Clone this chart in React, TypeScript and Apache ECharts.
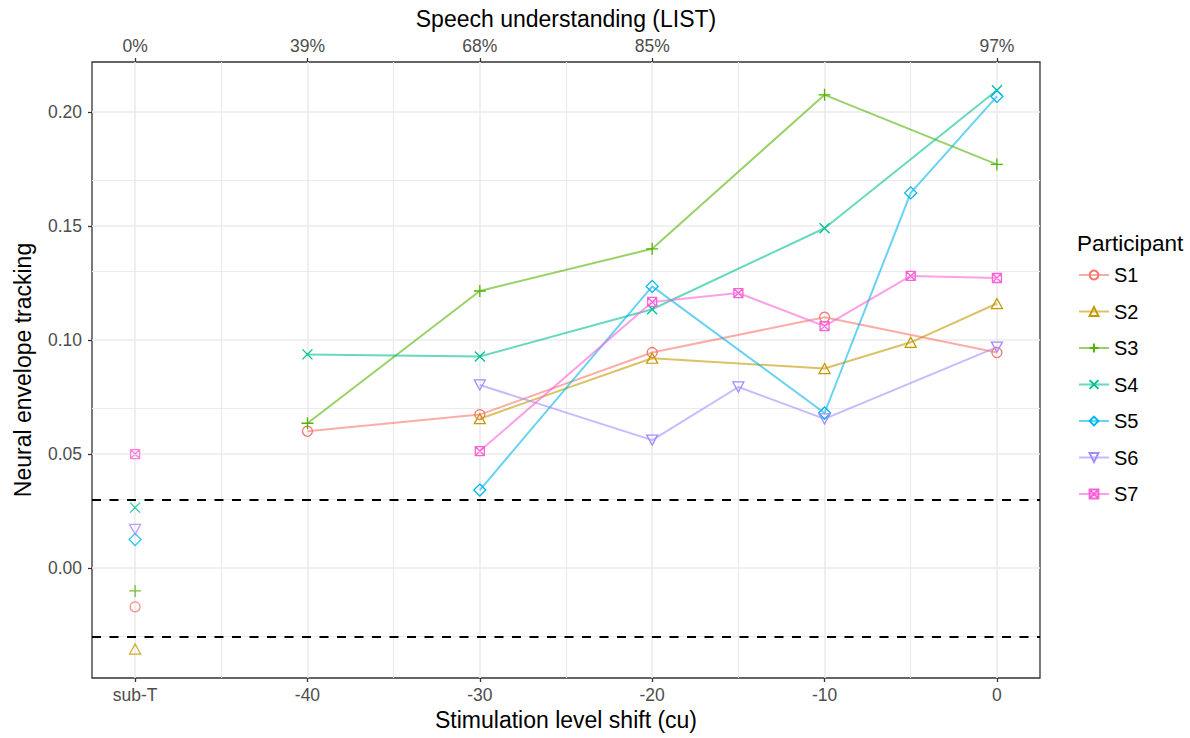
import React, { useEffect, useRef } from "react";
import * as echarts from "echarts";

// x positions: sub-T is drawn at -50
const subTX = -50;
const xBottomTicks = [-50, -40, -30, -20, -10, 0];
const xBottomLabels = ["sub-T", "-40", "-30", "-20", "-10", "0"];
const xTopTicks = [-50, -40, -30, -20, 0];
const xTopLabels = ["0%", "39%", "68%", "85%", "97%"];
const xMinorGrid = [-45, -35, -25, -15, -5];
const yTicks = [0, 0.05, 0.1, 0.15, 0.2];
const yMinorGrid = [-0.025, 0.025, 0.075, 0.125, 0.175];
const chanceLevels = [0.03, -0.03];

const participants = ["S1", "S2", "S3", "S4", "S5", "S6", "S7"];
const colors = ["#F8766D", "#C49A00", "#53B400", "#00C094", "#00B6EB", "#A58AFF", "#FB61D7"];

// sub-T values per participant
const subTValues = [-0.017, -0.0355, -0.010, 0.0265, 0.0125, 0.017, 0.050];

// connected values: [shift, tracking]
const s1: [number, number][] = [[-40, 0.060], [-30, 0.0673], [-20, 0.0945], [-10, 0.110], [0, 0.0945]];
const s2: [number, number][] = [[-30, 0.0655], [-20, 0.092], [-10, 0.0875], [-5, 0.099], [0, 0.116]];
const s3: [number, number][] = [[-40, 0.0635], [-30, 0.1215], [-20, 0.140], [-10, 0.2075], [0, 0.177]];
const s4: [number, number][] = [[-40, 0.0937], [-30, 0.0928], [-20, 0.1135], [-10, 0.149], [0, 0.2095]];
const s5: [number, number][] = [[-30, 0.0342], [-20, 0.1235], [-10, 0.068], [-5, 0.1645], [0, 0.2068]];
const s6: [number, number][] = [[-30, 0.0803], [-20, 0.0561], [-15, 0.0794], [-10, 0.0654], [0, 0.0969]];
const s7: [number, number][] = [[-30, 0.0513], [-20, 0.1167], [-15, 0.1206], [-10, 0.1061], [-5, 0.1281], [0, 0.1272]];
const seriesValues = [s1, s2, s3, s4, s5, s6, s7];

const symbols = [
  "circle",
  "triangle",
  "path://M5,0L5,10M0,5L10,5",
  "path://M0,0L10,10M10,0L0,10",
  "diamond",
  "path://M0,0L10,0L5,8.66Z",
  "path://M0,0L10,0L10,10L0,10ZM0,0L10,10M10,0L0,10",
];
const symbolSizes: any[] = [10, [11, 10], 12, 10, 12, [11, 10], 9];

const FONT = "'Liberation Sans', Arial, Helvetica, sans-serif";

export default function App() {
  const ref = useRef<HTMLDivElement>(null);
  useEffect(() => {
    if (!ref.current) return;
    const chart = echarts.init(ref.current, null, { renderer: "svg" });

    const series: any[] = [];
    const gridMark = (values: any[], style: any, z: number) => ({
      type: "line",
      data: [],
      silent: true,
      z,
      markLine: {
        silent: true,
        z,
        symbol: ["none", "none"],
        label: { show: false },
        animation: false,
        lineStyle: style,
        data: values,
      },
    });
    series.push(
      gridMark(
        [...xMinorGrid.map((v) => ({ xAxis: v })), ...yMinorGrid.map((v) => ({ yAxis: v }))],
        { color: "#EBEBEB", width: 1.2, type: "solid" },
        0
      )
    );
    series.push(
      gridMark(
        [...xBottomTicks.map((v) => ({ xAxis: v })), ...yTicks.map((v) => ({ yAxis: v }))],
        { color: "#EBEBEB", width: 1.6, type: "solid" },
        0
      )
    );
    series.push(
      gridMark(
        chanceLevels.map((v) => ({ yAxis: v })),
        { color: "#000000", width: 2, type: [9, 8.5] },
        1
      )
    );

    participants.forEach((name, i) => {
      const c = colors[i];
      const itemStyle = { color: "rgba(0,0,0,0)", borderColor: c, borderWidth: 1.3 };
      series.push({
        name,
        type: "line",
        data: seriesValues[i],
        symbol: symbols[i],
        symbolSize: symbolSizes[i],
        showAllSymbol: true,
        itemStyle,
        lineStyle: { color: c, opacity: 0.6, width: 2 },
        z: 3,
      });
      series.push({
        name,
        type: "scatter",
        data: [[subTX, subTValues[i]]],
        symbol: symbols[i],
        symbolSize: symbolSizes[i],
        itemStyle,
        z: 3,
      });
    });

    const tickStyle = { color: "#333333", width: 1.3 };
    const labelCommon = { fontFamily: FONT, fontSize: 17.5, color: "#4D4D4D" };
    const nameStyle = { fontFamily: FONT, fontSize: 23, color: "#000000" };
    const axisCommon = {
      type: "value",
      min: -52.5,
      max: 2.5,
      splitLine: { show: false },
      axisLine: { show: false, onZero: false },
      nameLocation: "middle",
      nameTextStyle: nameStyle,
    };

    chart.setOption({
      animation: false,
      backgroundColor: "#FFFFFF",
      textStyle: { fontFamily: FONT },
      title: {
        text: "Participant",
        left: 1072,
        top: 227,
        textStyle: { fontFamily: FONT, fontSize: 22.5, fontWeight: "normal", color: "#000000" },
      },
      legend: {
        orient: "vertical",
        left: 1073,
        top: 260,
        itemWidth: 30,
        itemHeight: 11,
        itemGap: 16.5,
        data: participants,
        textStyle: { fontFamily: FONT, fontSize: 20, lineHeight: 20, color: "#000000" },
      },
      grid: {
        left: 92,
        top: 62,
        right: 150,
        bottom: 60,
        show: true,
        borderColor: "#333333",
        borderWidth: 1.3,
        backgroundColor: "#FFFFFF",
      },
      xAxis: [
        {
          ...axisCommon,
          position: "bottom",
          name: "Stimulation level shift (cu)",
          nameGap: 30,
          axisTick: { show: true, length: 4, customValues: xBottomTicks, lineStyle: tickStyle },
          axisLabel: {
            ...labelCommon,
            customValues: xBottomTicks,
            formatter: (v: number) => xBottomLabels[xBottomTicks.indexOf(Math.round(v))] ?? "",
            margin: 8,
          },
        },
        {
          ...axisCommon,
          position: "top",
          name: "Speech understanding (LIST)",
          nameGap: 32,
          axisTick: { show: true, length: 4, customValues: xTopTicks, lineStyle: tickStyle },
          axisLabel: {
            ...labelCommon,
            customValues: xTopTicks,
            formatter: (v: number) => xTopLabels[xTopTicks.indexOf(Math.round(v))] ?? "",
            margin: 7,
          },
        },
      ],
      yAxis: {
        type: "value",
        min: -0.0482,
        max: 0.2219,
        splitLine: { show: false },
        axisLine: { show: false, onZero: false },
        axisTick: { show: true, length: 4, customValues: yTicks, lineStyle: tickStyle },
        axisLabel: {
          ...labelCommon,
          customValues: yTicks,
          formatter: (v: number) => v.toFixed(2),
          margin: 10,
        },
        name: "Neural envelope tracking",
        nameLocation: "middle",
        nameGap: 58,
        nameTextStyle: nameStyle,
      },
      series,
    });
    return () => chart.dispose();
  }, []);
  return (
    <div
      ref={ref}
      style={{ position: "fixed", left: 0, top: 0, width: 1190, height: 738, background: "#fff" }}
    />
  );
}
